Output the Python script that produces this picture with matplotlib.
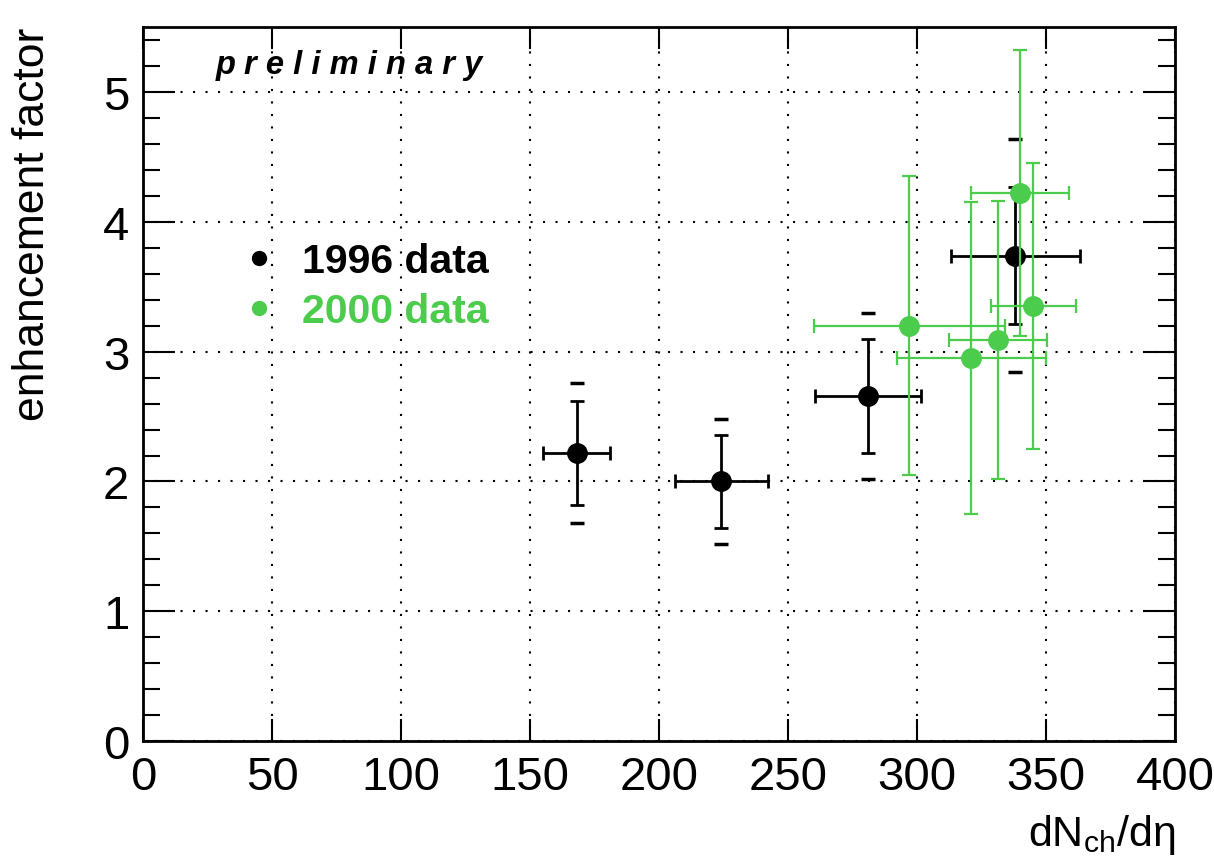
import numpy as np
import matplotlib.pyplot as plt
from matplotlib.lines import Line2D
from matplotlib.ticker import MultipleLocator

plt.rcParams['font.family'] = ['Liberation Sans', 'DejaVu Sans']
plt.rcParams['mathtext.default'] = 'regular'

# 1996 data
x96 = [168, 224, 281, 338]
y96 = [2.22, 2.00, 2.66, 3.74]
xerr96 = [13, 18, 20.5, 25]
yerr96 = [0.40, 0.36, 0.44, 0.53]
sys96 = [0.54, 0.48, 0.64, 0.90]

# 2000 data
x00 = [297, 321, 331.5, 340, 345]
y00 = [3.20, 2.95, 3.09, 4.22, 3.35]
xerr00 = [37, 29, 19, 19, 16.5]
yerr00 = [1.15, 1.20, 1.07, 1.10, 1.10]

black = 'black'
green = '#4ccc4c'

fig = plt.figure(figsize=(12.14, 8.62), dpi=100)
ax = fig.add_axes([0.118, 0.139, 0.850, 0.8285])

ax.errorbar(x96, y96, xerr=xerr96, yerr=yerr96, fmt='o', color=black,
            ms=14, elinewidth=2, capsize=5, capthick=2, zorder=3)
y96 = np.array(y96)
sys96 = np.array(sys96)
ax.plot(x96, y96 + sys96, ls='none', marker='_', ms=10, mew=2.5, color=black, zorder=3)
ax.plot(x96, y96 - sys96, ls='none', marker='_', ms=10, mew=2.5, color=black, zorder=3)

ax.errorbar(x00, y00, xerr=xerr00, yerr=yerr00, fmt='o', color=green,
            ms=14, elinewidth=1.6, capsize=5, capthick=1.6, zorder=4)

ax.set_xlim(0, 400)
ax.set_ylim(0, 5.5)
ax.xaxis.set_major_locator(MultipleLocator(50))
ax.yaxis.set_major_locator(MultipleLocator(1))
ax.yaxis.set_minor_locator(MultipleLocator(0.2))

ax.grid(True, which='major', color='black', linestyle=(0, (1, 5)), linewidth=1.5)

ax.tick_params(axis='both', which='both', direction='in', top=True, right=True, width=1.5)
ax.tick_params(axis='x', which='major', length=16, pad=10)
ax.tick_params(axis='y', which='major', length=23, pad=10)
ax.tick_params(axis='y', which='minor', length=12)
for lab in ax.get_xticklabels() + ax.get_yticklabels():
    lab.set_fontsize(34)

for s in ax.spines.values():
    s.set_linewidth(2)

ax.set_ylabel('enhancement factor', fontsize=32, loc='top', labelpad=36)
ax.set_xlabel('dN$_{ch}$/dη', fontsize=31, loc='right', labelpad=9)

ax.text(0.07, 0.948, 'p r e l i m i n a r y', transform=ax.transAxes,
        fontsize=23.5, fontweight='bold', fontstyle='italic', va='center')

handles = [Line2D([], [], ls='none', marker='o', ms=10, color=black),
           Line2D([], [], ls='none', marker='o', ms=10, color=green)]
leg = ax.legend(handles, ['1996 data', '2000 data'], loc='upper left',
                bbox_to_anchor=(0.057, 0.75), frameon=False,
                prop={'size': 29.5, 'weight': 'bold'}, handletextpad=0.55,
                labelspacing=0.28, handlelength=1.0, labelcolor=[black, green])

fig.savefig('out.png', dpi=100)
